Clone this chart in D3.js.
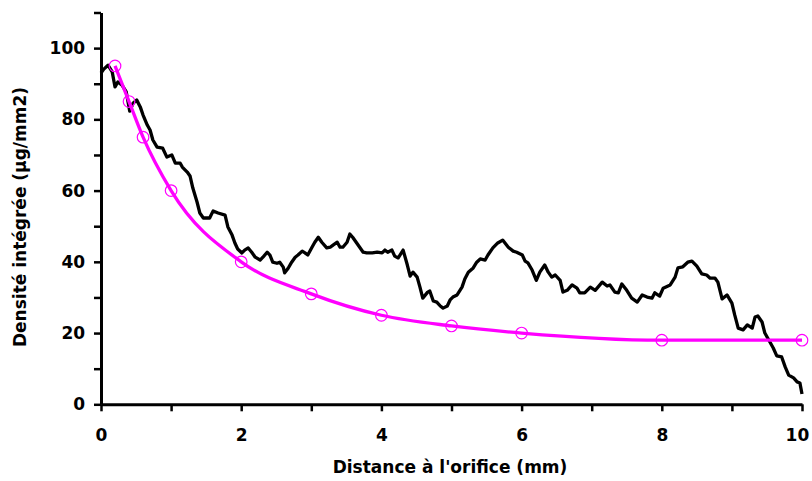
<!DOCTYPE html>
<html>
<head>
<meta charset="utf-8">
<script src="https://cdn.jsdelivr.net/npm/d3@7"></script>
<style>
  body { margin: 0; background: #fff; }
  text { font-family: "Comic Sans MS", "DejaVu Sans", sans-serif; font-weight: bold; }
</style>
</head>
<body>
<div id="main"><svg width="812" height="481"></svg></div>
<script>
var svg = d3.select("#main svg");

// measured profile (black)
var profX = [0.00,0.04,0.10,0.16,0.20,0.24,0.30,0.36,0.41,0.46,0.51,0.56,0.60,0.66,0.70,0.74,0.80,0.88,0.94,1.01,
  1.06,1.13,1.16,1.23,1.27,1.31,1.37,1.41,1.46,1.55,1.60,1.67,1.77,1.81,1.87,1.91,1.95,2.01,2.05,2.10,
  2.15,2.20,2.27,2.31,2.37,2.41,2.45,2.51,2.55,2.60,2.62,2.67,2.72,2.77,2.81,2.87,2.91,2.95,3.01,3.05,
  3.10,3.15,3.22,3.27,3.31,3.37,3.41,3.45,3.51,3.55,3.59,3.65,3.69,3.74,3.79,3.87,3.94,4.01,4.05,4.09,
  4.15,4.19,4.24,4.31,4.37,4.41,4.45,4.51,4.55,4.59,4.66,4.69,4.74,4.79,4.84,4.88,4.94,4.98,5.02,5.08,
  5.15,5.19,5.24,5.31,5.36,5.41,5.48,5.52,5.59,5.66,5.73,5.81,5.88,5.93,6.01,6.05,6.09,6.15,6.21,6.26,
  6.33,6.38,6.43,6.48,6.55,6.59,6.65,6.72,6.79,6.83,6.90,6.98,7.05,7.15,7.22,7.26,7.33,7.38,7.43,7.50,
  7.57,7.65,7.72,7.79,7.86,7.90,7.97,8.02,8.12,8.19,8.23,8.30,8.37,8.43,8.50,8.57,8.64,8.69,8.76,8.80,
  8.86,8.93,9.00,9.04,9.09,9.16,9.22,9.29,9.33,9.37,9.43,9.47,9.51,9.59,9.64,9.71,9.76,9.81,9.88,9.93,
  9.97,10.00];
var profY = [93.0,94.1,95.2,93.3,89.1,90.5,89.6,87.7,82.3,84.6,85.4,83.5,81.2,78.4,77.0,74.2,72.2,71.9,69.4,70.0,
  67.7,67.7,66.6,65.2,64.1,60.7,56.8,53.7,52.3,52.3,54.3,53.7,53.1,49.8,47.5,45.3,43.6,42.5,43.3,43.9,
  42.7,41.3,40.5,41.3,42.7,41.9,39.9,39.6,39.9,38.5,36.9,38.2,39.9,41.3,41.9,43.0,42.5,41.9,44.1,45.5,
  46.9,45.5,43.9,44.1,44.7,45.5,44.1,44.1,45.5,47.8,46.9,45.2,44.1,42.7,42.5,42.5,42.7,42.5,43.3,42.7,
  43.3,41.6,41.1,43.3,39.1,36.0,37.1,35.7,32.9,29.8,31.5,31.8,29.0,28.7,27.6,27.0,27.6,29.3,30.1,30.7,
  32.9,35.2,37.1,38.3,39.9,40.8,40.5,41.9,43.9,45.3,46.1,44.1,43.0,42.7,41.9,40.2,39.7,37.7,34.8,37.1,
  39.1,37.1,35.7,36.3,34.8,31.5,32.0,33.5,32.6,31.3,31.3,32.9,32.0,34.3,33.2,33.5,31.5,31.3,33.8,32.0,
  29.8,28.7,30.7,30.1,29.8,31.3,30.4,32.6,33.5,35.7,38.3,38.6,39.9,40.2,38.8,36.6,36.3,35.4,35.4,34.3,
  29.6,30.7,28.4,25.1,21.4,20.9,22.3,21.4,24.5,24.8,23.1,20.0,18.6,15.8,13.6,13.3,10.5,8.2,7.4,6.3,
  6.0,2.9];

// model (magenta)
var modelX = [0.2, 0.4, 0.6, 1, 2, 3, 4, 5, 6, 8, 10];
var modelY = [95, 85, 75, 60, 40, 31, 25, 22, 20, 18, 18];

var xTicks = [0, 1, 2, 3, 4, 5, 6, 7, 8, 9, 10];
var yTicks = [0, 10, 20, 30, 40, 50, 60, 70, 80, 90, 100, 110];

var profile = profX.map(function(x, i) { return {x: x, y: profY[i]}; });
var model = modelX.map(function(x, i) { return {x: x, y: modelY[i]}; });

var xScale = d3.scaleLinear().domain([0, 10]).range([101, 802]);
var yScale = d3.scaleLinear().domain([0, 110]).range([404.3, 12.5]);

var xAxis = d3.axisBottom(xScale)
    .tickValues(xTicks)
    .tickSize(7)
    .tickSizeOuter(0)
    .tickFormat(function(d) { return d % 2 === 0 ? d : ''; });

var yAxis = d3.axisLeft(yScale)
    .tickValues(yTicks)
    .tickSize(7)
    .tickSizeOuter(0)
    .tickFormat(function(d) { return (d % 20 === 0 && d <= 100) ? d : ''; });

var gx = svg.append('g')
    .attr('transform', 'translate(' + [0, yScale(0)] + ')')
    .call(xAxis);

var gy = svg.append('g')
    .attr('transform', 'translate(' + [xScale(0), 0] + ')')
    .call(yAxis);

[gx, gy].forEach(function(g) {
  g.select('.domain').attr('stroke', '#000').attr('stroke-width', 3);
  g.selectAll('.tick line').attr('stroke', '#000').attr('stroke-width', 2.5);
  g.selectAll('.tick text').attr('fill', '#000').style('font-size', '17px');
});
gx.selectAll('.tick text').attr('dy', '1.55em');
gy.selectAll('.tick text').attr('dx', '-0.35em');
// keep the last label inside the frame
gx.selectAll('.tick text').filter(function(d) { return d === 10; }).attr('dx', '-0.3em');

var line = d3.line()
    .x(function(d) { return xScale(d.x); })
    .y(function(d) { return yScale(d.y); });

svg.append('path')
    .datum(profile)
    .attr('fill', 'none')
    .attr('stroke', '#000')
    .attr('stroke-width', 3.3)
    .attr('stroke-linejoin', 'round')
    .attr('d', line);

svg.append('path')
    .datum(model)
    .attr('fill', 'none')
    .attr('stroke', '#ff00ff')
    .attr('stroke-width', 3.3)
    .attr('d', line.curve(d3.curveMonotoneX));

svg.selectAll('.dot')
    .data(model)
    .enter().append('circle')
    .attr('class', 'dot')
    .attr('cx', function(d) { return xScale(d.x); })
    .attr('cy', function(d) { return yScale(d.y); })
    .attr('r', 5.8)
    .attr('fill', 'none')
    .attr('stroke', '#ff00ff')
    .attr('stroke-width', 1.2);

svg.append('text')
    .attr('x', 450)
    .attr('y', 473)
    .attr('text-anchor', 'middle')
    .style('font-size', '17px')
    .text("Distance à l'orifice (mm)");

svg.append('text')
    .attr('transform', 'translate(' + [26, 217] + ') rotate(-90)')
    .attr('text-anchor', 'middle')
    .style('font-size', '17px')
    .text('Densité intégrée (µg/mm2)');
</script>
</body>
</html>
